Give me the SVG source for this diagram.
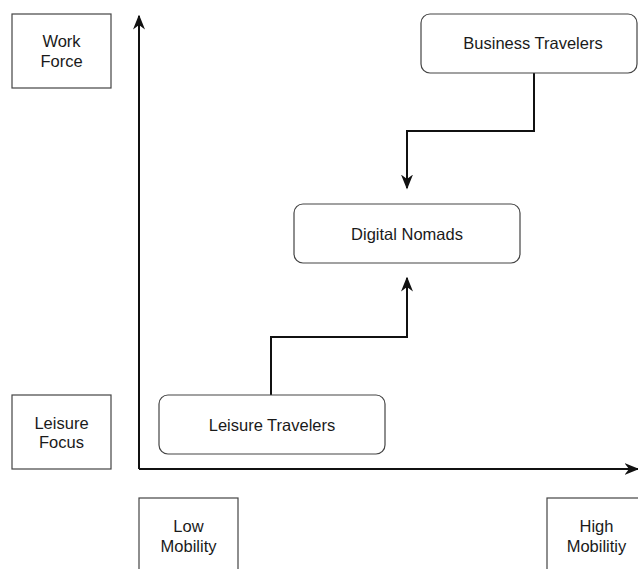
<svg xmlns="http://www.w3.org/2000/svg" width="638" height="569" viewBox="0 0 638 569">
<defs>
<style>
.box{fill:#fff;stroke:#444;stroke-width:1.2}
.t{font-family:"Liberation Sans",Arial,sans-serif;font-size:16.5px;fill:#1a1a1a;text-anchor:middle}
.ln{fill:none;stroke:#111;stroke-width:2}
</style>
<marker id="ah2" viewBox="0 0 10 10" refX="9" refY="5" markerWidth="15" markerHeight="15" markerUnits="userSpaceOnUse" orient="auto">
<path d="M0,1 L10,5 L0,9 L3,5 Z" fill="#111"/>
</marker>
</defs>
<g id="connectors">
<path class="ln" d="M139,469 V16" marker-end="url(#ah2)"/>
<path class="ln" d="M139,469 H638" marker-end="url(#ah2)"/>
<path class="ln" d="M534,73 V131 H407 V188" marker-end="url(#ah2)"/>
<path class="ln" d="M271,395 V337 H407 V278" marker-end="url(#ah2)"/>
</g>
<g id="work-force">
<rect class="box" x="12" y="14" width="99" height="74"/>
<text class="t" x="61.5" y="47">Work</text>
<text class="t" x="61.5" y="67">Force</text>
</g>
<g id="leisure-focus">
<rect class="box" x="12" y="395" width="99" height="74"/>
<text class="t" x="61.5" y="429">Leisure</text>
<text class="t" x="61.5" y="448">Focus</text>
</g>
<g id="low-mobility">
<rect class="box" x="139" y="498" width="99" height="80"/>
<text class="t" x="188.5" y="532">Low</text>
<text class="t" x="188.5" y="552">Mobility</text>
</g>
<g id="high-mobility">
<rect class="box" x="547" y="498" width="99" height="80"/>
<text class="t" x="596.5" y="532">High</text>
<text class="t" x="596.5" y="552">Mobilitiy</text>
</g>
<g id="business-travelers">
<rect class="box" x="421" y="14" width="216" height="59" rx="9"/>
<text class="t" x="533" y="49">Business Travelers</text>
</g>
<g id="digital-nomads">
<rect class="box" x="294" y="204" width="226" height="59" rx="9"/>
<text class="t" x="407" y="240">Digital Nomads</text>
</g>
<g id="leisure-travelers">
<rect class="box" x="159" y="395" width="226" height="59" rx="9"/>
<text class="t" x="272" y="431">Leisure Travelers</text>
</g>
</svg>
